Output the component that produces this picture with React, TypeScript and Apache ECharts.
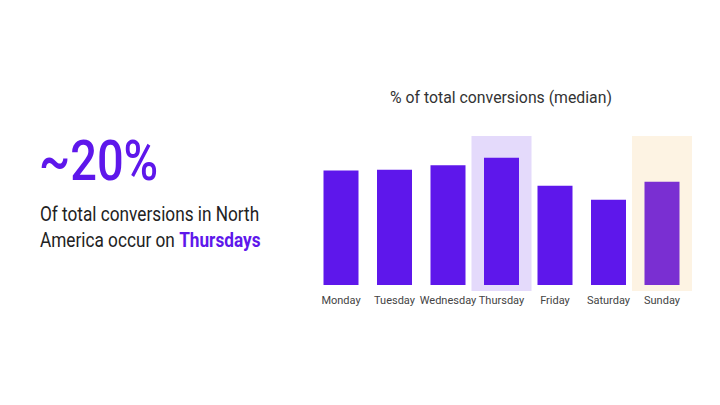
import React, { useEffect, useRef } from "react";
import * as echarts from "echarts";

const days = ["Monday", "Tuesday", "Wednesday", "Thursday", "Friday", "Saturday", "Sunday"];
const shares = [18.0, 18.1, 18.8, 20.0, 15.6, 13.4, 16.2];
const barColors = ["#5E17EB", "#5E17EB", "#5E17EB", "#5E17EB", "#5E17EB", "#5E17EB", "#7A2FD2"];
const highlightDays = ["Thursday", "Sunday"];
const highlightColors = ["#E4DAFB", "#FDF3E3"];
const yMax = 23.4;
const chartTitle = "% of total conversions (median)";
const headline = "~20%";
const bodyLine1 = "Of total conversions in North";
const bodyLine2a = "America occur on ";
const bodyLine2b = "Thursdays";

const FONT = "Roboto, 'DejaVu Sans Condensed', sans-serif";

export default function App() {
  const ref = useRef<HTMLDivElement>(null);
  useEffect(() => {
    if (!ref.current) return;
    const chart = echarts.init(ref.current, undefined, { renderer: "svg" });
    const bandData = highlightDays.map((d) => [days.indexOf(d), yMax]);
    chart.setOption({
      animation: false,
      backgroundColor: "#ffffff",
      textStyle: { fontFamily: FONT },
      grid: { left: 314.25, right: 31.25, top: 136, bottom: 120 },
      xAxis: {
        type: "category",
        data: days,
        axisLine: { show: false },
        axisTick: { show: false },
        axisLabel: { color: "#444444", fontSize: 11, margin: 10, fontFamily: FONT, interval: 0 },
      },
      yAxis: {
        type: "value",
        min: 0,
        max: yMax,
        show: false,
        splitLine: { show: false },
      },
      series: [
        {
          type: "custom",
          z: 1,
          data: bandData,
          renderItem: (params: any, api: any) => {
            const base = api.coord([api.value(0), 0]);
            const top = api.coord([api.value(0), api.value(1)]);
            return {
              type: "rect",
              shape: { x: base[0] - 30, y: top[1], width: 60, height: base[1] + 6 - top[1] },
              style: { fill: highlightColors[params.dataIndex] },
            };
          },
        },
        {
          type: "bar",
          z: 2,
          barWidth: 35,
          data: shares.map((v, i) => ({ value: v, itemStyle: { color: barColors[i] } })),
        },
      ],
      graphic: [
        {
          type: "text",
          x: 501,
          y: 97,
          scaleX: 0.93,
          style: {
            text: chartTitle,
            font: `17px ${FONT}`,
            fill: "#333333",
            align: "center",
            verticalAlign: "middle",
          },
        },
        {
          type: "text",
          x: 39,
          y: 161,
          scaleX: 0.84,
          style: { text: headline, font: `500 56px ${FONT}`, fill: "#5E17EB", verticalAlign: "middle" },
        },
        {
          type: "text",
          x: 40,
          y: 214,
          scaleX: 0.82,
          style: { text: bodyLine1, font: `21px ${FONT}`, fill: "#222222", verticalAlign: "middle" },
        },
        {
          type: "text",
          x: 40,
          y: 240,
          scaleX: 0.82,
          style: {
            text: `{a|${bodyLine2a}}{b|${bodyLine2b}}`,
            verticalAlign: "middle",
            rich: {
              a: { font: `21px ${FONT}`, fill: "#222222", color: "#222222" },
              b: { font: `bold 21px ${FONT}`, fill: "#5E17EB", color: "#5E17EB" },
            },
          },
        },
      ],
    });
    return () => chart.dispose();
  }, []);
  return <div ref={ref} style={{ width: 720, height: 405, position: "absolute", left: 0, top: 0 }} />;
}
